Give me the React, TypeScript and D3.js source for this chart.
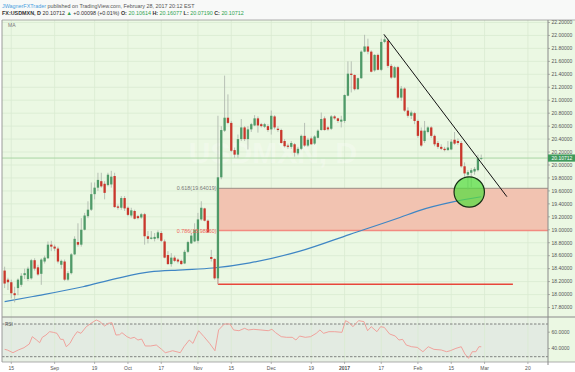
import React from 'react';
import * as d3 from 'd3';

// daily bars [open, high, low, close], one per weekday from 11 Aug 2016 to 28 Feb 2017
const candles: [number, number, number, number][] = [
  [18.37, 18.43, 18.10, 18.17], [18.23, 18.26, 18.07, 18.19], [18.19, 18.23, 17.94, 18.02], [18.02, 18.12, 17.88, 17.99],
  [18.10, 18.25, 17.99, 18.23], [18.15, 18.33, 18.12, 18.29], [18.30, 18.40, 18.24, 18.33], [18.24, 18.43, 18.21, 18.40],
  [18.25, 18.55, 18.23, 18.53], [18.53, 18.56, 18.37, 18.40], [18.42, 18.46, 18.29, 18.31], [18.32, 18.56, 18.15, 18.54],
  [18.51, 18.60, 18.48, 18.57], [18.56, 18.82, 18.55, 18.77], [18.77, 18.83, 18.67, 18.74], [18.74, 18.77, 18.67, 18.71],
  [18.71, 18.74, 18.48, 18.51], [18.46, 18.54, 18.40, 18.52], [18.51, 18.54, 18.21, 18.23], [18.23, 18.36, 18.21, 18.33],
  [18.33, 18.64, 18.31, 18.62], [18.62, 18.90, 18.61, 18.86], [18.81, 19.10, 18.74, 18.77], [18.77, 19.18, 18.74, 19.00],
  [19.00, 19.26, 18.99, 19.22], [19.21, 19.44, 19.18, 19.31], [19.31, 19.73, 19.29, 19.55], [19.55, 19.73, 19.47, 19.65],
  [19.65, 19.88, 19.60, 19.77], [19.75, 19.88, 19.65, 19.67], [19.71, 19.75, 19.47, 19.57], [19.69, 19.88, 19.67, 19.85],
  [19.70, 19.91, 19.65, 19.82], [19.83, 19.88, 19.34, 19.35], [19.36, 19.39, 19.31, 19.34], [19.34, 19.52, 19.31, 19.49],
  [19.49, 19.52, 19.29, 19.33], [19.34, 19.36, 19.21, 19.23], [19.22, 19.34, 19.19, 19.30], [19.29, 19.31, 19.16, 19.17],
  [19.21, 19.23, 19.16, 19.18], [19.19, 19.26, 19.17, 19.24], [19.24, 19.26, 18.77, 18.90], [18.90, 18.98, 18.79, 18.86],
  [18.86, 18.98, 18.85, 18.88], [18.86, 18.95, 18.82, 18.89], [18.87, 18.99, 18.85, 18.96], [18.95, 18.98, 18.81, 18.83],
  [18.82, 18.85, 18.56, 18.57], [18.61, 18.67, 18.46, 18.47], [18.47, 18.64, 18.43, 18.57], [18.57, 18.60, 18.50, 18.52],
  [18.54, 18.56, 18.48, 18.51], [18.52, 18.54, 18.46, 18.47], [18.48, 18.69, 18.47, 18.66], [18.66, 18.83, 18.64, 18.81],
  [18.79, 18.95, 18.78, 18.91], [18.82, 19.10, 18.81, 19.00], [18.83, 19.26, 18.79, 19.16], [19.16, 19.44, 19.14, 19.34],
  [19.33, 19.34, 19.13, 19.14], [19.14, 19.16, 18.95, 18.96], [18.58, 18.69, 18.51, 18.55], [18.55, 18.56, 18.23, 18.25],
  [18.25, 20.76, 18.16, 19.81], [19.81, 20.60, 19.78, 20.54], [20.53, 21.38, 20.51, 20.73], [20.73, 21.09, 20.63, 20.65],
  [20.65, 20.68, 20.20, 20.22], [20.23, 20.27, 20.11, 20.16], [20.16, 20.47, 20.11, 20.40], [20.40, 20.71, 20.37, 20.58],
  [20.58, 20.60, 20.37, 20.40], [20.40, 20.60, 20.24, 20.55], [20.55, 20.65, 20.51, 20.63], [20.61, 20.77, 20.60, 20.72],
  [20.72, 20.75, 20.50, 20.61], [20.63, 20.65, 20.58, 20.60], [20.59, 20.65, 20.57, 20.63], [20.60, 20.63, 20.51, 20.54],
  [20.55, 20.84, 20.47, 20.76], [20.75, 20.77, 20.55, 20.58], [20.56, 20.60, 20.51, 20.54], [20.54, 20.56, 20.33, 20.34],
  [20.37, 20.40, 20.27, 20.29], [20.30, 20.33, 20.25, 20.28], [20.28, 20.37, 20.25, 20.34], [20.32, 20.34, 20.13, 20.19],
  [20.18, 20.28, 20.15, 20.25], [20.25, 20.47, 20.23, 20.45], [20.45, 20.65, 20.28, 20.30], [20.30, 20.42, 20.28, 20.39],
  [20.41, 20.44, 20.31, 20.32], [20.33, 20.46, 20.31, 20.44], [20.42, 20.55, 20.41, 20.53], [20.54, 20.81, 20.53, 20.71],
  [20.72, 20.75, 20.53, 20.54], [20.58, 20.60, 20.53, 20.55], [20.56, 20.77, 20.54, 20.75], [20.75, 20.77, 20.70, 20.72],
  [20.72, 20.73, 20.65, 20.68], [20.67, 20.76, 20.58, 20.70], [20.68, 21.09, 20.65, 21.08], [21.07, 21.60, 21.06, 21.41],
  [21.41, 21.60, 21.12, 21.39], [21.39, 21.40, 21.15, 21.17], [21.17, 21.35, 21.16, 21.34], [21.34, 21.77, 21.33, 21.75],
  [21.75, 22.01, 21.74, 21.83], [21.83, 21.95, 21.71, 21.75], [21.75, 21.77, 21.43, 21.44], [21.46, 21.71, 21.44, 21.70],
  [21.70, 21.72, 21.46, 21.47], [21.47, 21.95, 21.45, 21.90], [21.90, 22.01, 21.88, 21.94], [21.92, 21.95, 21.50, 21.53],
  [21.53, 21.56, 21.33, 21.35], [21.35, 21.53, 21.34, 21.51], [21.51, 21.53, 21.02, 21.04], [21.04, 21.22, 20.99, 21.18],
  [21.18, 21.20, 20.82, 20.84], [20.84, 20.89, 20.73, 20.76], [20.76, 20.84, 20.71, 20.81], [20.80, 20.82, 20.63, 20.68],
  [20.68, 20.70, 20.42, 20.45], [20.53, 20.58, 20.28, 20.30], [20.37, 20.68, 20.34, 20.53], [20.51, 20.60, 20.49, 20.58],
  [20.58, 20.60, 20.42, 20.45], [20.45, 20.47, 20.29, 20.32], [20.34, 20.37, 20.25, 20.28], [20.28, 20.32, 20.23, 20.25],
  [20.25, 20.28, 20.21, 20.23], [20.23, 20.37, 20.22, 20.27], [20.24, 20.40, 20.23, 20.36], [20.39, 20.51, 20.31, 20.33],
  [20.37, 20.41, 20.31, 20.34], [20.34, 20.37, 19.96, 19.98], [19.98, 20.04, 19.80, 19.87], [19.85, 19.92, 19.62, 19.89],
  [19.88, 19.95, 19.66, 19.92], [19.90, 19.97, 19.85, 19.94], [19.92, 20.16, 19.90, 20.10], [20.10614, 20.16077, 20.0719, 20.10712],
];

// moving average, read at [bar number, value]
const maPoints: [number, number][] = [
  [0, 17.89], [8.5, 17.97], [23.5, 18.12], [33.7, 18.25], [43.6, 18.35], [53.5, 18.38], [62.5, 18.41],
  [73.6, 18.49], [88.6, 18.67], [103.6, 18.93], [118.6, 19.19], [124.6, 19.3], [134.5, 19.43], [143, 19.51],
];

// RSI, read at [bar number, value]
const rsiPoints: [number, number][] = [
  [0, 39.0], [0.8, 38.2], [2.5, 34.9], [4.1, 38.2], [5.8, 41.0], [7.4, 45.5], [8.3, 54.5], [9.6, 50.4], [10.5, 47.1],
  [11.3, 53.7], [12.4, 56.5], [13.5, 60.6], [14.6, 59.8], [15.7, 58.6], [16.8, 51.2], [17.6, 51.2], [18.5, 42.2],
  [19.6, 46.3], [20.7, 54.5], [21.8, 60.6], [22.9, 58.6], [24.5, 66.7], [26.2, 71.6], [27.5, 74.9], [28.6, 72.9],
  [30.0, 67.6], [31.1, 70.8], [32.2, 71.6], [33.4, 56.5], [34.5, 56.9], [35.2, 59.4], [36.7, 54.5], [37.8, 52.4],
  [38.9, 53.7], [40.0, 50.4], [41.1, 51.6], [42.2, 43.1], [43.8, 43.1], [45.5, 44.3], [47.1, 39.0], [48.2, 34.9],
  [49.4, 36.1], [50.4, 37.3], [52.7, 34.9], [53.8, 42.2], [55.4, 50.4], [56.5, 46.3], [58.2, 61.8], [59.8, 54.5],
  [61.5, 46.3], [63.1, 37.3], [64.2, 62.7], [65.9, 70.0], [67.6, 70.0], [68.7, 62.7], [70.3, 61.8], [72.0, 64.7],
  [73.1, 62.7], [74.7, 63.5], [76.9, 62.7], [79.1, 61.8], [80.2, 63.5], [81.3, 59.4], [83.0, 54.5], [84.6, 53.7],
  [86.3, 53.7], [87.4, 50.4], [88.5, 55.3], [90.2, 53.7], [91.8, 54.5], [93.5, 58.6], [94.6, 62.7], [95.7, 58.6],
  [97.3, 60.6], [99.0, 60.6], [101.2, 59.8], [102.3, 74.1], [103.4, 71.6], [104.5, 66.7], [106.2, 74.1], [107.8, 72.9],
  [108.9, 61.8], [110.0, 66.7], [111.7, 60.6], [112.8, 66.7], [113.9, 65.9], [115.5, 57.8], [117.2, 55.3], [118.3, 50.4],
  [119.4, 51.2], [120.5, 44.3], [122.1, 42.2], [123.8, 41.4], [125.5, 36.1], [127.1, 42.2], [128.8, 39.0], [131.0, 38.2],
  [132.6, 36.1], [133.7, 37.3], [135.4, 40.2], [137.0, 42.2], [138.1, 33.3], [139.2, 28.0], [140.3, 36.1], [141.4, 36.1],
  [142.3, 42.2], [143, 42.2],
];

const tickDates = ['2016-08-15', '2016-09-01', '2016-09-19', '2016-10-03', '2016-10-17', '2016-11-01', '2016-11-15',
  '2016-12-01', '2016-12-19', '2017-01-02', '2017-01-17', '2017-02-01', '2017-02-15', '2017-03-01', '2017-03-20'];
const tickLabels = ['15', 'Sep', '19', 'Oct', '17', 'Nov', '15', 'Dec', '19', '2017', '17', 'Feb', '15', 'Mar', '20'];

const fibLevels = [0.618, 0.786];
const fibValues = [19.64019, 18.9886];
const fibLow = 18.159;
const lastPrice = 20.10712;
const trendLine: [number, number][] = [[113.8, 22.018], [150.7, 19.511]];
const circleAt: [number, number] = [139.4, 19.583];

const W = 575;
const H = 372;
const left = 2;
const right = 548;
const mainTop = 20;
const mainBottom = 317;
const rsiBottom = 362;
const font = 'Arial, "Liberation Sans", sans-serif';

const App = () => {
  const fmt = d3.timeFormat('%Y-%m-%d');
  const days = d3.timeDay.range(new Date(2016, 7, 11), new Date(2017, 2, 25)).filter((d) => d.getDay() % 6 !== 0);
  const dayIndex = new Map(days.map((d, i) => [fmt(d), i]));
  const fibStart = dayIndex.get('2016-11-09') as number;

  const x = d3.scaleLinear().domain([0, 157]).range([4.63, 527.9]);
  const y = d3.scaleLinear().domain([17.8, 22.2]).range([307.5, 22.5]);
  const yr = d3.scaleLinear().domain([30, 70]).range([356.7, 324]);
  const priceTicks = y.ticks(22);
  const pf = d3.format('.5f');

  const maLine = d3.line<[number, number]>().x((d) => x(d[0])).y((d) => y(d[1])).curve(d3.curveMonotoneX);
  const rsiLine = d3.line<[number, number]>().x((d) => x(d[0])).y((d) => yr(d[1]));
  const bw = 2.3;

  return (
    <div style={{ position: 'fixed', left: 0, top: 0 }}>
      <svg width={W} height={H} style={{ display: 'block' }} fontFamily={font}>
        <rect width={W} height={H} fill="#ffffff" />
        <rect width={W} height={mainTop} fill="#f8f9f8" />
        <text x={2} y={7.5} fontSize={5.4} fill="#555">
          <tspan fill="#4a9fe0">JWagnerFXTrader</tspan> published on TradingView.com, February 28, 2017 20:12 EST
        </text>
        <text x={2} y={15.2} fontSize={5.4} fill="#333">
          <tspan fontWeight="bold">FX:USDMXN, D</tspan> 20.10712 <tspan fill="#2ea44f">▲</tspan> +0.00098 (+0.01%){' '}
          <tspan fontWeight="bold">O:</tspan> <tspan fill="#2ea44f">20.10614</tspan>{' '}
          <tspan fontWeight="bold">H:</tspan> <tspan fill="#2ea44f">20.16077</tspan>{' '}
          <tspan fontWeight="bold">L:</tspan> <tspan fill="#2ea44f">20.07190</tspan>{' '}
          <tspan fontWeight="bold">C:</tspan> <tspan fill="#2ea44f">20.10712</tspan>
        </text>

        {/* panes */}
        <rect x={left} y={mainTop} width={W - left} height={rsiBottom - mainTop} fill="#ebf8e3" />
        <rect x={left} y={mainBottom} width={right - left} height={rsiBottom - mainBottom} fill="#e8f0e5" />
        <rect x={left} y={yr(70)} width={right - left} height={yr(30) - yr(70)} fill="#e3ebe2" />

        {priceTicks.map((t) => (
          <line key={t} x1={left} x2={right} y1={y(t)} y2={y(t)} stroke="#d9ebd2" strokeWidth={0.8} />
        ))}
        {tickDates.map((d) => (
          <line key={d} x1={x(dayIndex.get(d) as number)} x2={x(dayIndex.get(d) as number)} y1={mainTop} y2={rsiBottom}
            stroke="#d9ebd2" strokeWidth={0.8} />
        ))}

        <text x={273} y={163} textAnchor="middle" fontSize={30} fontWeight="bold" fill="#ffffff" opacity={0.28}>
          USDMXN, D
        </text>

        {/* fibonacci zone */}
        <rect x={x(fibStart)} y={y(fibValues[0])} width={right - x(fibStart)} height={y(fibValues[1]) - y(fibValues[0])}
          fill="#f2c3b1" />
        <line x1={x(fibStart)} x2={right} y1={y(fibValues[0])} y2={y(fibValues[0])} stroke="#9c8d84" strokeWidth={1} />
        <line x1={x(fibStart)} x2={right} y1={y(fibValues[1])} y2={y(fibValues[1])} stroke="#f28a80" strokeWidth={1.5} />
        <line x1={x(fibStart)} x2={x(152.5)} y1={y(fibLow)} y2={y(fibLow)} stroke="#e8463a" strokeWidth={1.5} />
        <line x1={x(fibStart)} x2={x(fibStart)} y1={y(fibValues[0])} y2={y(fibLow)} stroke="#f28a80" strokeWidth={0.8} />

        <line x1={left} x2={right} y1={y(lastPrice)} y2={y(lastPrice)} stroke="#a9d6a4" strokeWidth={1} />

        <path d={maLine(maPoints) || ''} fill="none" stroke="#3f86c4" strokeWidth={1.2} />

        {candles.map((c, i) => {
          const up = c[3] >= c[0];
          const top = y(Math.max(c[0], c[3]));
          const bot = y(Math.min(c[0], c[3]));
          return (
            <g key={i}>
              <line x1={x(i)} x2={x(i)} y1={y(c[1])} y2={y(c[2])} stroke="#a9b3a9" strokeWidth={0.8} />
              <rect x={x(i) - bw / 2} y={top} width={bw} height={Math.max(bot - top, 0.8)}
                fill={up ? '#4f9a68' : '#c9372c'} />
            </g>
          );
        })}

        {fibLevels.map((f, i) => (
          <text key={f} x={x(fibStart) - 1.5} y={y(fibValues[i]) + 2} textAnchor="end" fontSize={5.4}
            fill={i === 0 ? '#777' : '#f0645a'}>
            {`${f}(${fibValues[i].toFixed(5)})`}
          </text>
        ))}

        <line x1={x(trendLine[0][0])} y1={y(trendLine[0][1])} x2={x(trendLine[1][0])} y2={y(trendLine[1][1])}
          stroke="#111" strokeWidth={1} />
        <ellipse cx={x(circleAt[0])} cy={y(circleAt[1])} rx={15.2} ry={15.2} fill="#55dd40" fillOpacity={0.72}
          stroke="#163016" strokeWidth={1.2} />

        <text x={8} y={27} fontSize={5} fill="#777">MA</text>

        {/* rsi */}
        <line x1={left} x2={right} y1={yr(70)} y2={yr(70)} stroke="#666" strokeWidth={0.8} strokeDasharray="2.5,1.5" />
        <line x1={left} x2={right} y1={yr(30)} y2={yr(30)} stroke="#666" strokeWidth={0.8} strokeDasharray="2.5,1.5" />
        <path d={rsiLine(rsiPoints) || ''} fill="none" stroke="#f19a94" strokeWidth={0.9} />
        <text x={5} y={yr(70) + 1.8} fontSize={4.6} fill="#555">RSI</text>

        {/* frame */}
        <line x1={left} x2={W} y1={mainTop} y2={mainTop} stroke="#9a9a9a" strokeWidth={0.8} />
        <line x1={left} x2={W} y1={mainBottom} y2={mainBottom} stroke="#8a8a8a" strokeWidth={1} />
        <line x1={left} x2={W} y1={rsiBottom} y2={rsiBottom} stroke="#9a9a9a" strokeWidth={0.8} />
        <line x1={left} x2={left} y1={mainTop} y2={rsiBottom} stroke="#9a9a9a" strokeWidth={1} />
        <line x1={right} x2={right} y1={mainTop} y2={rsiBottom + 3} stroke="#8a8a8a" strokeWidth={1} />

        {/* price axis */}
        {priceTicks.map((t) => (
          <g key={t}>
            <line x1={right} x2={right + 2} y1={y(t)} y2={y(t)} stroke="#888" strokeWidth={0.6} />
            <text x={right + 3.5} y={y(t) + 1.8} fontSize={5} fill="#555">{pf(t)}</text>
          </g>
        ))}
        <rect x={right} y={y(lastPrice) - 3.6} width={W - right} height={7.2} fill="#3f9a5c" />
        <text x={right + 3.5} y={y(lastPrice) + 1.8} fontSize={5} fill="#fff">{pf(lastPrice)}</text>
        {[60, 40].map((t) => (
          <g key={t}>
            <line x1={right} x2={right + 2} y1={yr(t)} y2={yr(t)} stroke="#888" strokeWidth={0.6} />
            <text x={right + 3.5} y={yr(t) + 1.8} fontSize={5} fill="#555">{d3.format('.4f')(t)}</text>
          </g>
        ))}

        {/* date axis */}
        {tickDates.map((d, i) => (
          <g key={d}>
            <line x1={x(dayIndex.get(d) as number)} x2={x(dayIndex.get(d) as number)} y1={rsiBottom} y2={rsiBottom + 2}
              stroke="#888" strokeWidth={0.6} />
            <text x={x(dayIndex.get(d) as number)} y={369.5} textAnchor="middle" fontSize={5} fill="#555"
              fontWeight={tickLabels[i] === '2017' ? 'bold' : 'normal'}>
              {tickLabels[i]}
            </text>
          </g>
        ))}
      </svg>
    </div>
  );
};

export default App;
